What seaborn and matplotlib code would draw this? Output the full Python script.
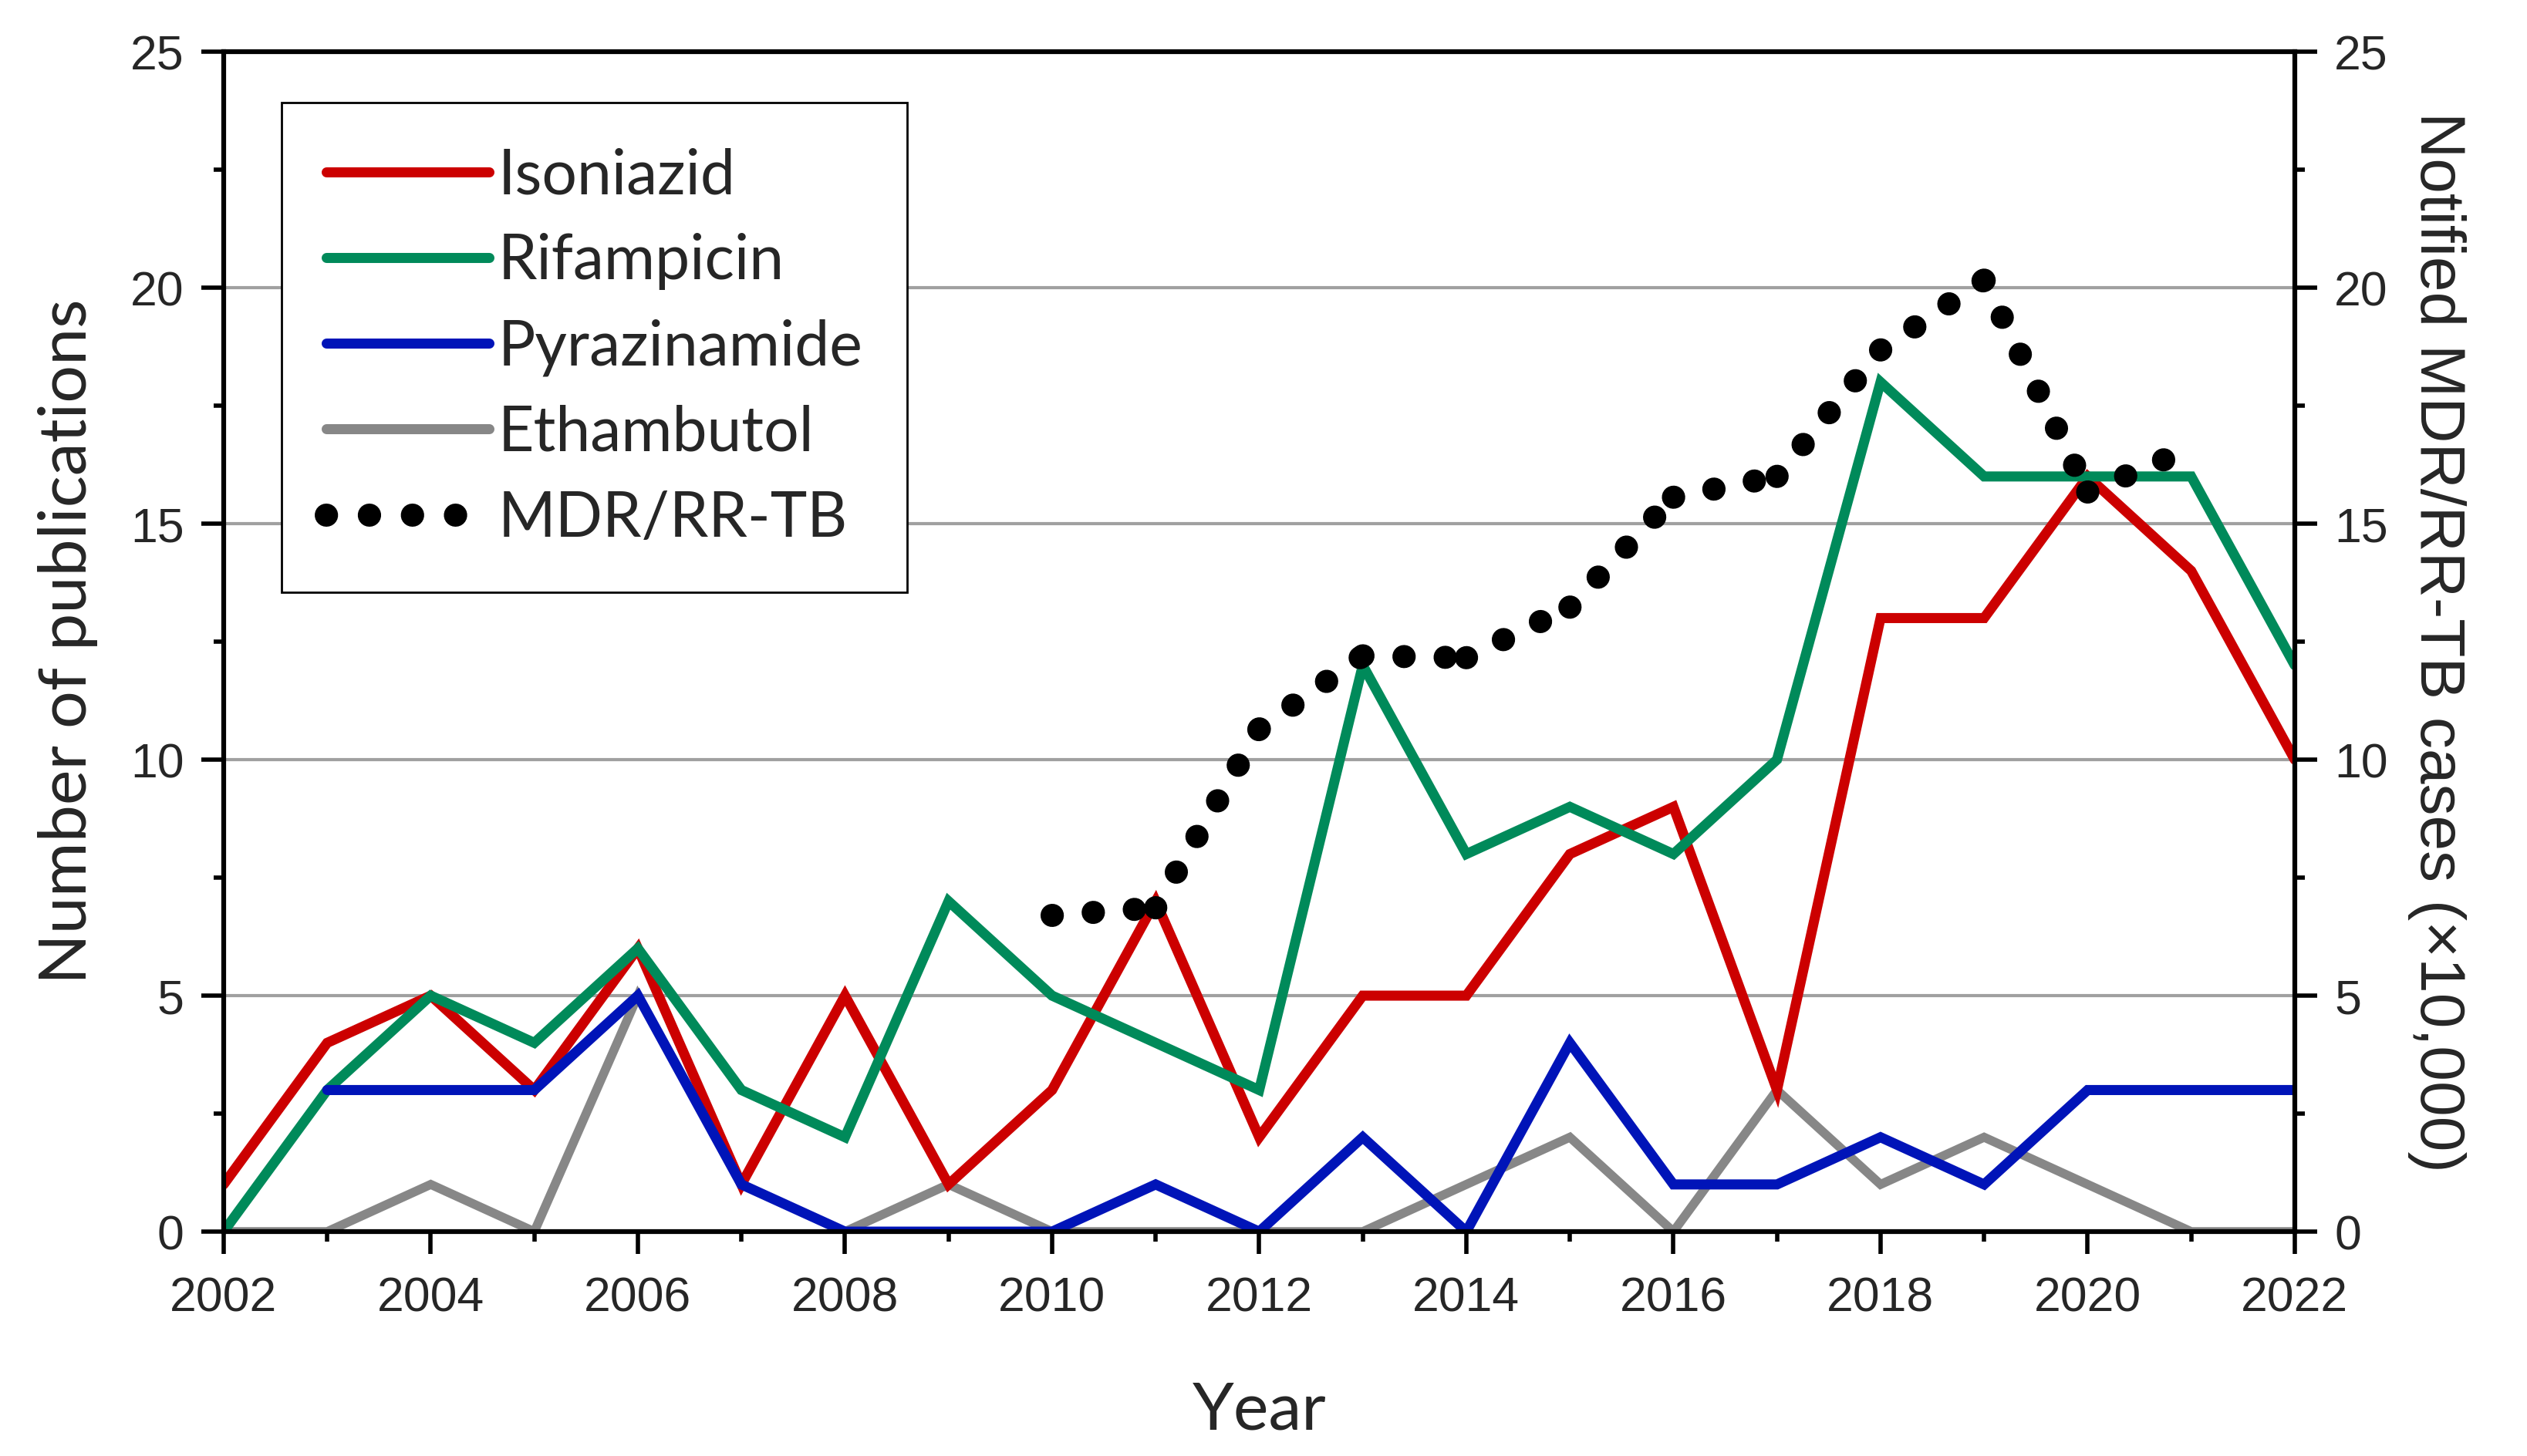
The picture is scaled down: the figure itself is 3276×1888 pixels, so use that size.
import numpy as np
import pandas as pd
import seaborn as sns
import matplotlib.pyplot as plt
from matplotlib.lines import Line2D
from matplotlib.ticker import MultipleLocator

# Data
years = list(range(2002, 2023))
isoniazid = [1, 4, 5, 3, 6, 1, 5, 1, 3, 7, 2, 5, 5, 8, 9, 3, 13, 13, 16, 14, 10]
rifampicin = [0, 3, 5, 4, 6, 3, 2, 7, 5, 4, 3, 12, 8, 9, 8, 10, 18, 16, 16, 16, 12]
pyrazinamide = [np.nan, 3, 3, 3, 5, 1, 0, 0, 0, 1, 0, 2, 0, 4, 1, 1, 2, 1, 3, 3, 3]
ethambutol = [0, 0, 1, 0, 5, 1, 0, 1, 0, 0, 0, 0, 1, 2, 0, 3, 1, 2, 1, 0, 0]

mdr_years = list(range(2010, 2022))
mdr_cases = [6.70, 6.86, 10.65, 12.2, 12.16, 13.23, 15.56, 16.0, 18.68, 20.16, 15.67, 16.6]

sns.set_style("ticks")
plt.rcParams['font.family'] = ['Liberation Sans', 'DejaVu Sans']

colors = {'Isoniazid': '#cc0000', 'Rifampicin': '#008a5a',
          'Pyrazinamide': '#0014b8', 'Ethambutol': '#878787'}
series = {'Isoniazid': isoniazid, 'Rifampicin': rifampicin,
          'Pyrazinamide': pyrazinamide, 'Ethambutol': ethambutol}
widths = {'Isoniazid': 4.7, 'Rifampicin': 4.7, 'Pyrazinamide': 4.7, 'Ethambutol': 4.2}

fig = plt.figure(figsize=(16.38, 9.44), dpi=200)
ax = fig.add_subplot(111)
fig.subplots_adjust(left=0.0885, right=0.9081, bottom=0.1541, top=0.9645)

# draw order: gray under, blue on top
for name in ['Ethambutol', 'Isoniazid', 'Rifampicin', 'Pyrazinamide']:
    df = pd.DataFrame({'year': years, 'n': series[name]}).dropna()
    sns.lineplot(data=df, x='year', y='n', color=colors[name], lw=widths[name],
                 ax=ax, legend=False)
for ln in ax.lines:
    ln.set_solid_joinstyle('miter')

ax.set_xlim(2002, 2022)
ax.set_ylim(0, 25)
ax.xaxis.set_major_locator(MultipleLocator(2))
ax.xaxis.set_minor_locator(MultipleLocator(1))
ax.yaxis.set_major_locator(MultipleLocator(5))
ax.yaxis.set_minor_locator(MultipleLocator(2.5))
ax.yaxis.grid(True, which='major', color='#a0a0a0', lw=1.5)
ax.set_axisbelow(True)

ax2 = ax.twinx()
ax2.set_ylim(0, 25)
ax2.yaxis.set_major_locator(MultipleLocator(5))
ax2.yaxis.set_minor_locator(MultipleLocator(2.5))

# dotted line, pattern restarts at every data point
for i in range(len(mdr_years) - 1):
    ax2.plot(mdr_years[i:i + 2], mdr_cases[i:i + 2], color='black', lw=10.8,
             linestyle=(0, (0.01, 1.77)), dash_capstyle='round')

for a in (ax, ax2):
    for s in a.spines.values():
        s.set_visible(True)
        s.set_linewidth(2.2)
        s.set_color('black')
    a.tick_params(which='major', direction='out', length=10.5, width=2.0,
                  labelsize=22.5, color='black')
    a.tick_params(which='minor', direction='out', length=4.7, width=2.0, color='black')
ax.tick_params(axis='x', which='both', top=False, pad=10)
ax.tick_params(axis='y', which='both', right=False, pad=8)
ax2.tick_params(axis='y', which='both', left=False, right=True, pad=8)

ax.set_xlabel('Year', fontsize=31, family=['Lato', 'DejaVu Sans'], labelpad=28)
ax.set_ylabel('Number of publications', fontsize=31, family=['Lato', 'DejaVu Sans'],
              labelpad=15)
ax2.set_ylabel('Notified MDR/RR-TB cases (×10,000)', fontsize=29.5, rotation=270,
               va='bottom', labelpad=9)

handles = [Line2D([], [], color=colors[n], lw=4.7, solid_capstyle='round')
           for n in ['Isoniazid', 'Rifampicin', 'Pyrazinamide', 'Ethambutol']]
handles.append(Line2D([], [], color='black', lw=10.8, linestyle=(0, (0.01, 1.85)),
                      dash_capstyle='round'))
labels = ['Isoniazid', 'Rifampicin', 'Pyrazinamide', 'Ethambutol', 'MDR/RR-TB']
leg = ax2.legend(handles, labels, loc='upper left',
                 bbox_to_anchor=(365 / 3276, 1 - 133 / 1888), bbox_transform=fig.transFigure,
                 borderaxespad=0, frameon=True, fancybox=False, framealpha=1,
                 edgecolor='black', prop={'family': ['Lato', 'DejaVu Sans'], 'size': 29},
                 handlelength=2.62, handletextpad=0.14, labelspacing=0.46, borderpad=0.72)
leg.get_frame().set_linewidth(1.0)

fig.savefig('out.png', dpi=200)
